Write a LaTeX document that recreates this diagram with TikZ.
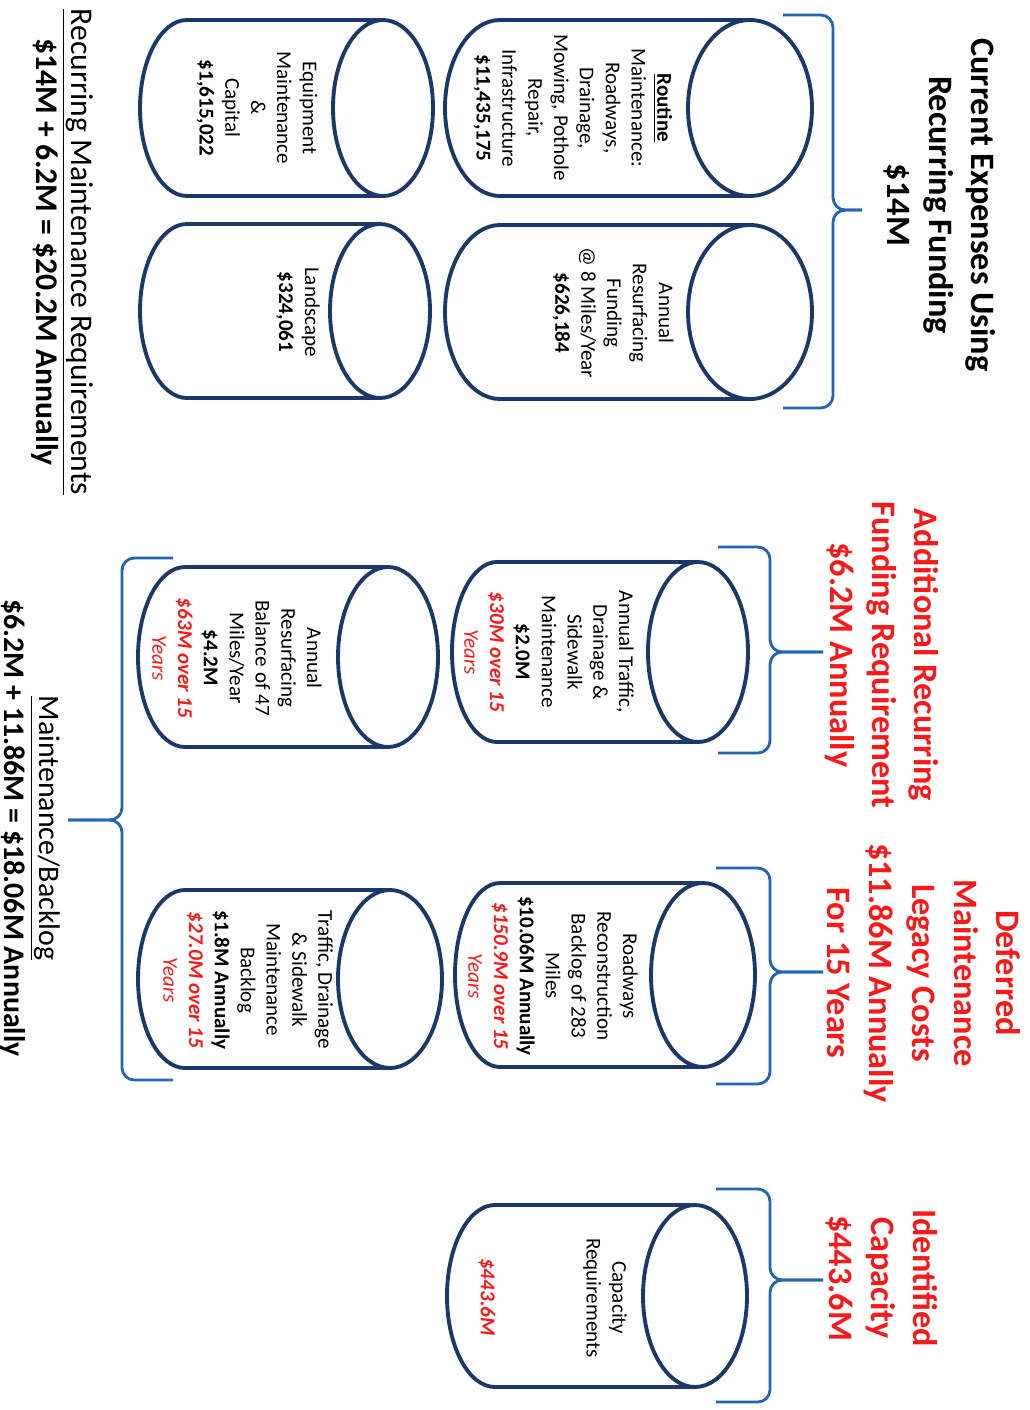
\documentclass[tikz,border=0pt]{standalone}
\usepackage{fontspec}
\setmainfont{Carlito}

\definecolor{drumblue}{RGB}{28,55,105}
\definecolor{braceblue}{RGB}{35,100,180}
\definecolor{alertred}{RGB}{250,25,25}

\tikzset{
  drum/.style={draw=drumblue,line width=2.2pt,fill=white},
  curl/.style={draw=braceblue,line width=1.6pt,rounded corners=7pt},
  drumtext/.style={rotate=-90,align=center,inner sep=0pt,font=\fontsize{12}{14.7}\selectfont},
  headtext/.style={rotate=-90,align=center,inner sep=0pt,font=\bfseries\fontsize{19.5}{24}\selectfont},
  sumtext/.style={rotate=-90,align=center,inner sep=0pt,font=\fontsize{17}{19.5}\selectfont},
}

% name, left cap x, top face x, centre y, radius y, left rx, top rx
\newcommand\drum[7]{%
  \draw[drum] (#3,#4-#5) -- (#2,#4-#5) arc[start angle=270,end angle=90,x radius=#6,y radius=#5] -- (#3,#4+#5);
  \draw[drum] (#3,#4) ellipse [x radius=#7,y radius=#5];
  \coordinate (#1) at ({(#2+#3)/2},#4);
}
% tip name, spine x, top y, bottom y, hook x, tip y, tip x
\newcommand\drawbrace[7]{%
  \coordinate (#1) at (#7,#6);
  \draw[curl] (#5,#3) -- (#2,#3) -- (#2,#6) -- (#1);
  \draw[curl] (#5,#4) -- (#2,#4) -- (#2,#6) -- (#1);
}
\newcommand\redbold[1]{{\color{alertred}\bfseries\itshape #1}}
\newcommand\redyears{{\color{alertred}\itshape Years}}

\begin{document}
\begin{tikzpicture}[x=0.02cm,y=-0.02cm]
\useasboundingbox (0,0) rectangle (1029,1410);

\drum{routinedrum}{500}{750}{108}{88}{55}{62}
\drum{resurfdrum}{500}{750}{312}{87}{55}{62}
\drum{equipdrum}{187}{383}{108}{88}{47}{50}
\drum{landdrum}{187}{380}{311}{87}{47}{50}
\drum{trafficdrum}{497}{698}{652}{90}{45}{50}
\drum{balancedrum}{185}{388}{657}{90}{47}{50}
\drum{roaddrum}{500}{703}{975}{92}{45}{52}
\drum{backlogdrum}{185}{390}{979}{89}{47}{52}
\drum{capdrum}{495}{695}{1296}{91}{48}{52}

\node[drumtext] (routine) at (573,108) {\underline{\textbf{Routine}}\\Maintenance:\\Roadways,\\Drainage,\\Mowing, Pothole\\Repair,\\Infrastructure\\\textbf{\$11,435,175}};
\node[drumtext] (resurf) at (613,313) {Annual\\Resurfacing\\Funding\\@ 8 Miles/Year\\\textbf{\$626,184}};
\node[drumtext] (equip) at (257,108) {Equipment\\Maintenance\\\&\\Capital\\\textbf{\$1,615,022}};
\node[drumtext] (land) at (298,312) {Landscape\\\textbf{\$324,061}};
\node[drumtext] (traffic) at (549,652) {Annual Traffic,\\Drainage \&\\Sidewalk\\Maintenance\\\textbf{\$2.0M}\\\redbold{\$30M over 15}\\\redyears};
\node[drumtext] (balance) at (237,658) {Annual\\Resurfacing\\Balance of 47\\Miles/Year\\\textbf{\$4.2M}\\\redbold{\$63M over 15}\\\redyears};
\node[drumtext] (road) at (553,976) {Roadways\\Reconstruction\\Backlog of 283\\Miles\\\textbf{\$10.06M Annually}\\\redbold{\$150.9M over 15}\\\redyears};
\node[drumtext] (backlog) at (248,980) {Traffic, Drainage\\\& Sidewalk\\Maintenance\\Backlog\\\textbf{\$1.8M Annually}\\\redbold{\$27.0M over 15}\\\redyears};
\node[drumtext] (capacity) at (605,1298) {Capacity\\Requirements};
\node[drumtext] (capvalue) at (487,1297) {\redbold{\$443.6M}};

\node[headtext] (curhead) at (940,205) {Current Expenses Using\\Recurring Funding\\\$14M};
\node[headtext,text=alertred] (addhead) at (882,655) {Additional Recurring\\Funding Requirement\\\$6.2M Annually};
\node[headtext,text=alertred] (defhead) at (924,973) {Deferred\\Maintenance\\Legacy Costs\\\$11.86M Annually\\For 15 Years};
\node[headtext,text=alertred] (caphead) at (882,1278) {Identified\\Capacity\\\$443.6M};

\drawbrace{curtip}{833}{15}{408}{783}{210}{862}
\drawbrace{addtip}{770}{547}{753}{718}{652}{823}
\drawbrace{deftip}{770}{868}{1084}{716}{972}{823}
\drawbrace{captip}{770}{1189}{1402}{716}{1280}{823}
\drawbrace{sumtip}{122}{558}{1080}{173}{820}{68}

\node[sumtext,font=\fontsize{18}{20}\selectfont] (recur) at (62,252) {\underline{Recurring Maintenance Requirements}\\\textbf{\$14M + 6.2M = \$20.2M Annually}};
\node[sumtext] (backsum) at (30,828) {\underline{Maintenance/Backlog}\\\textbf{\$6.2M + 11.86M = \$18.06M Annually}};
\end{tikzpicture}
\end{document}
